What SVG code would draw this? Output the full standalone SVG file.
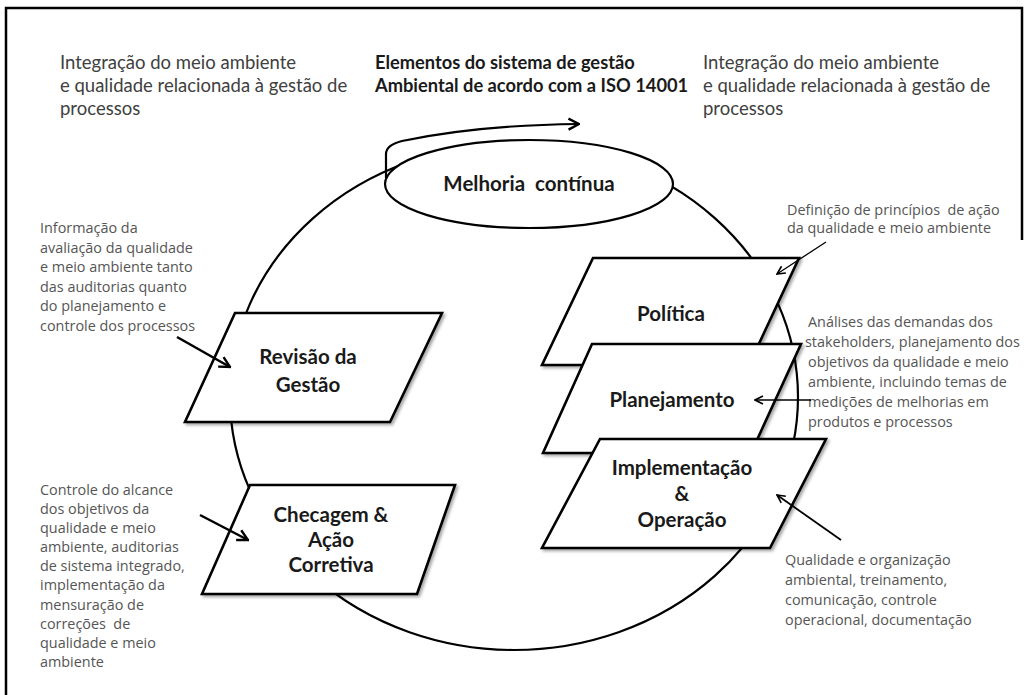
<svg xmlns="http://www.w3.org/2000/svg" width="1030" height="695" viewBox="0 0 1030 695">
<defs>
<style>
.frame{stroke:#000;stroke-width:2.5;fill:none}
.ring{fill:none;stroke:#000;stroke-width:2.2}
.box{fill:#fff;stroke:#000;stroke-width:2.6;stroke-linejoin:miter;filter:url(#sh)}
.lbl{font-family:Lato,"Open Sans",sans-serif;font-weight:bold;font-size:20.5px;fill:#1a1a1a;text-anchor:middle}
.head{font-family:Lato,"Open Sans",sans-serif;font-size:18.5px;fill:#404040}
.title{font-family:Lato,"Open Sans",sans-serif;font-weight:bold;font-size:18.3px;fill:#1a1a1a}
.note{font-family:"Open Sans",Lato,sans-serif;font-size:14.4px;fill:#555}
.arr{stroke:#000;fill:none}
</style>
<filter id="sh" x="-10%" y="-10%" width="130%" height="130%">
<feDropShadow dx="2" dy="2" stdDeviation="1.5" flood-color="#000" flood-opacity="0.35"/>
</filter>
<marker id="ah" viewBox="0 0 10 10" refX="9" refY="5" markerWidth="10" markerHeight="10" markerUnits="userSpaceOnUse" orient="auto">
<path d="M1,1 L9,5 L1,9" fill="none" stroke="#000" stroke-width="1.6"/>
</marker>
<marker id="ahL" viewBox="0 0 14 14" refX="12.5" refY="7" markerWidth="14" markerHeight="14" markerUnits="userSpaceOnUse" orient="auto">
<path d="M2,1.5 L12.5,7 L2,12.5" fill="none" stroke="#000" stroke-width="2.4"/>
</marker>
</defs>
<rect width="1030" height="695" fill="#fff"/>
<g id="frame">
<path class="frame" d="M6,695 V8 H1022 V240"/>
</g>
<g id="headers">
<text class="head" x="60" y="69">Integração do meio ambiente</text>
<text class="head" x="60" y="92">e qualidade relacionada à gestão de</text>
<text class="head" x="60" y="115">processos</text>
<text class="title" x="375" y="69">Elementos do sistema de gestão</text>
<text class="title" x="375" y="92">Ambiental de acordo com a ISO 14001</text>
<text class="head" x="703" y="69">Integração do meio ambiente</text>
<text class="head" x="703" y="92">e qualidade relacionada à gestão de</text>
<text class="head" x="703" y="115">processos</text>
</g>
<g id="cycle">
<ellipse class="ring" cx="514" cy="397" rx="284" ry="253"/>
</g>
<g id="melhoria">
<ellipse cx="529" cy="184" rx="144" ry="44" fill="#fff" stroke="#000" stroke-width="2.2"/>
<text class="lbl" x="529" y="191" xml:space="preserve">Melhoria  contínua</text>
</g>
<g id="revisao">
<polygon class="box" points="235,313 442,313 390,422 185,422"/>
<text class="lbl" x="308" y="364">Revisão da</text>
<text class="lbl" x="308" y="392">Gestão</text>
</g>
<g id="checagem">
<polygon class="box" points="250,485 455,485 417,594 202,594"/>
<text class="lbl" x="331" y="522">Checagem &amp;</text>
<text class="lbl" x="331" y="547">Ação</text>
<text class="lbl" x="331" y="572">Corretiva</text>
</g>
<g id="politica">
<polygon class="box" points="593,258 799,258 749,365 542,365"/>
<text class="lbl" x="671" y="321">Política</text>
</g>
<g id="planejamento">
<polygon class="box" points="592,344 801,344 751,453 543,453"/>
<text class="lbl" x="672" y="407">Planejamento</text>
</g>
<g id="implementacao">
<polygon class="box" points="600,439 826,439 770,548 542,548"/>
<text class="lbl" x="682" y="475">Implementação</text>
<text class="lbl" x="682" y="501">&amp;</text>
<text class="lbl" x="682" y="527">Operação</text>
</g>
<g id="note-revisao">
<text class="note" x="40" y="233">Informação da</text>
<text class="note" x="40" y="252.6">avaliação da qualidade</text>
<text class="note" x="40" y="272.2">e meio ambiente tanto</text>
<text class="note" x="40" y="291.8">das auditorias quanto</text>
<text class="note" x="40" y="311.4">do planejamento e</text>
<text class="note" x="40" y="331">controle dos processos</text>
</g>
<g id="note-checagem">
<text class="note" x="40" y="495">Controle do alcance</text>
<text class="note" x="40" y="514">dos objetivos da</text>
<text class="note" x="40" y="533">qualidade e meio</text>
<text class="note" x="40" y="552">ambiente, auditorias</text>
<text class="note" x="40" y="571">de sistema integrado,</text>
<text class="note" x="40" y="590">implementação da</text>
<text class="note" x="40" y="610">mensuração de</text>
<text class="note" x="40" y="629" xml:space="preserve">correções  de</text>
<text class="note" x="40" y="648">qualidade e meio</text>
<text class="note" x="40" y="667">ambiente</text>
</g>
<g id="note-politica">
<text class="note" x="787" y="215" xml:space="preserve">Definição de princípios  de ação</text>
<text class="note" x="787" y="233">da qualidade e meio ambiente</text>
</g>
<g id="note-planejamento">
<text class="note" x="808" y="327">Análises das demandas dos</text>
<text class="note" x="805" y="347">stakeholders, planejamento dos</text>
<text class="note" x="808" y="367">objetivos da qualidade e meio</text>
<text class="note" x="808" y="387">ambiente, incluindo temas de</text>
<text class="note" x="808" y="407">medições de melhorias em</text>
<text class="note" x="808" y="427">produtos e processos</text>
</g>
<g id="note-implementacao">
<text class="note" x="785" y="565">Qualidade e organização</text>
<text class="note" x="785" y="585">ambiental, treinamento,</text>
<text class="note" x="785" y="605">comunicação, controle</text>
<text class="note" x="785" y="625">operacional, documentação</text>
</g>
<g id="connectors">
<path class="arr" stroke-width="2.2" d="M386,178 V154 Q386,145 402,141 Q478,125 579,124" marker-end="url(#ahL)"/>
<path class="arr" stroke-width="2.5" d="M177,337 L230,367" marker-end="url(#ahL)"/>
<path class="arr" stroke-width="2.5" d="M200,515 L248,540" marker-end="url(#ahL)"/>
<path class="arr" stroke-width="1.3" d="M826,242 L777,274" marker-end="url(#ah)"/>
<path class="arr" stroke-width="1.6" d="M811,400 L755,400" marker-end="url(#ah)"/>
<path class="arr" stroke-width="1.8" d="M841,540 L777,495" marker-end="url(#ah)"/>
</g>
</svg>
